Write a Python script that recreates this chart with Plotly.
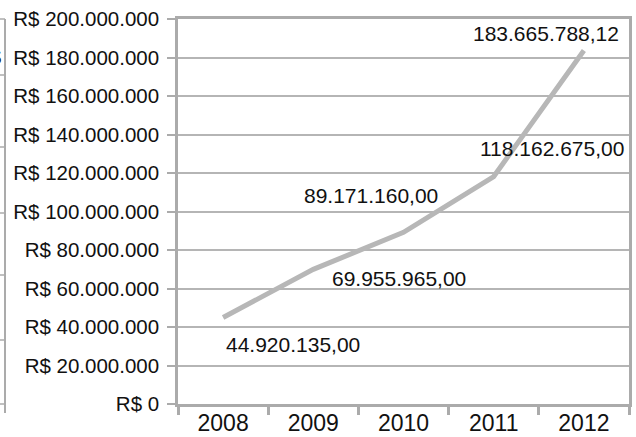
import plotly.graph_objects as go

years = ["2008", "2009", "2010", "2011", "2012"]
values = [44920135.00, 69955965.00, 89171160.00, 118162675.00, 183665788.12]
value_labels = ["44.920.135,00", "69.955.965,00", "89.171.160,00", "118.162.675,00", "183.665.788,12"]
y_tick_values = [0, 20e6, 40e6, 60e6, 80e6, 100e6, 120e6, 140e6, 160e6, 180e6, 200e6]
y_tick_labels = ["R$ 0", "R$ 20.000.000", "R$ 40.000.000", "R$ 60.000.000", "R$ 80.000.000",
                 "R$ 100.000.000", "R$ 120.000.000", "R$ 140.000.000", "R$ 160.000.000",
                 "R$ 180.000.000", "R$ 200.000.000"]
# label pixel offsets (x right, y up)
label_shift_x = [70, 86, -33, 58, -38]
label_shift_y = [-27, -9, 37, 28, 17]

W, H = 636, 437
L, R, T, B = 178, 7, 19, 33
pw, ph = W - L - R, H - T - B

FONT = "Liberation Sans, Arial, sans-serif"
GRAY = "#ababab"

fig = go.Figure()
fig.add_trace(go.Scatter(
    x=years, y=values, mode="lines",
    line=dict(color="#b7b7b7", width=5),
    hoverinfo="skip", showlegend=False,
))

for i, (v, lab, sx, sy) in enumerate(zip(values, value_labels, label_shift_x, label_shift_y)):
    fig.add_annotation(x=i, y=v, xref="x", yref="y", text=lab, showarrow=False,
                       xshift=sx, yshift=sy,
                       font=dict(family=FONT, size=21, color="#111111"))

def px(x):
    return (x - L) / pw

def py(y):
    return (H - B - y) / ph

# partial neighbouring chart at the far left edge
shapes = [dict(type="line", xref="paper", yref="paper", x0=px(5), x1=px(5), y0=py(19), y1=py(413),
               line=dict(color=GRAY, width=2))]
for yy in [19, 75, 147, 213, 275, 340, 404]:
    shapes.append(dict(type="line", xref="paper", yref="paper", x0=px(-2), x1=px(5), y0=py(yy), y1=py(yy),
                       line=dict(color=GRAY, width=1.5)))
fig.update_layout(shapes=shapes)
fig.add_annotation(xref="paper", yref="paper", x=px(3), y=py(57), xanchor="right", yanchor="middle",
                   text="$", showarrow=False, font=dict(family=FONT, size=20, color="#111111"))

fig.update_layout(
    width=W, height=H,
    margin=dict(l=L, r=R, t=T, b=B, pad=0, autoexpand=False),
    paper_bgcolor="white", plot_bgcolor="white",
    font=dict(family=FONT, color="#111111"),
    xaxis=dict(
        type="category", range=[-0.5, 4.5], automargin=False,
        showline=True, linecolor=GRAY, linewidth=2.5, mirror=True,
        ticks="outside", tickson="boundaries", ticklen=8, tickcolor=GRAY, tickwidth=2.5,
        showgrid=False, tickfont=dict(family=FONT, size=23, color="#111111"),
        ticklabelstandoff=-3,
        fixedrange=True,
    ),
    yaxis=dict(
        range=[0, 200e6], tickvals=y_tick_values, ticktext=y_tick_labels, automargin=False,
        showline=True, linecolor=GRAY, linewidth=2.5, mirror=True,
        ticks="outside", ticklen=8, tickcolor=GRAY, tickwidth=1.5,
        showgrid=True, gridcolor="#b5b5b5", gridwidth=1.5,
        zeroline=False, ticklabelstandoff=4,
        tickfont=dict(family=FONT, size=20.5, color="#111111"),
        fixedrange=True,
    ),
)

fig.write_html("out.html")
